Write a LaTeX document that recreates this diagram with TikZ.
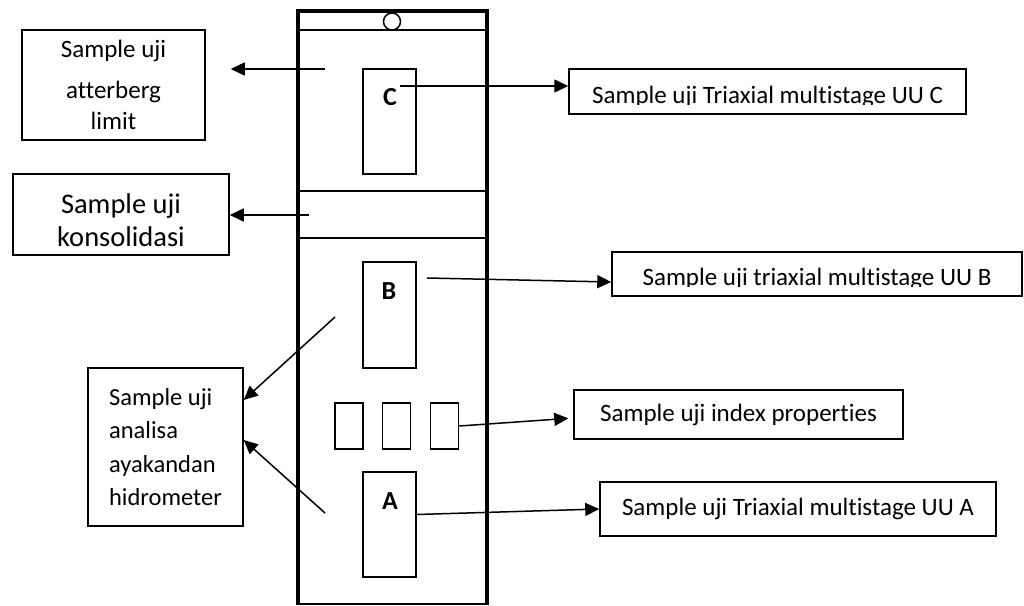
\documentclass[tikz,border=0pt]{standalone}
\usepackage{fontspec}
\setmainfont{Carlito}[RawFeature={-liga}]
\usetikzlibrary{arrows.meta}
\tikzset{
    box/.style={draw,line width=1.5pt,inner sep=0pt,align=center},
    big/.style={font=\fontsize{25}{36}\selectfont},
    cut/.style={box,path picture={
        \clip ([yshift=10pt]path picture bounding box.south west) rectangle (path picture bounding box.north east);
        \node[big,anchor=base] at ([yshift=11pt]path picture bounding box.south) {#1};
    }},
    arr/.style={-{Triangle[length=14pt,width=13pt]},line width=1.5pt},
    tag/.style={font=\fontsize{26}{30}\selectfont\bfseries},
    wall/.style={line width=3.5pt,line join=miter},
% coordinates are pixels of the page, y grows downwards
}

\begin{document}
\begin{tikzpicture}[x=1pt,y=1pt]
\useasboundingbox (0,0) rectangle (1024,-605);

\draw[wall] (298,-604) -- (298,-11) -- (487,-11) -- (487,-604);
        \draw[line width=2pt] (296.25,-604) -- (488.75,-604);
        \foreach \y in {30,191,238} {
            \draw[line width=2pt] (298,-\y) -- (487,-\y);
        }
        \draw[line width=1.5pt] (392,-21.5) circle (8.5);


        \node[box,minimum width=53pt,minimum height=105pt] (sampC) at (389.5,-121.5) {};
        \node[box,minimum width=53pt,minimum height=106pt] (sampB) at (389.5,-315) {};
        \node[box,minimum width=53pt,minimum height=105pt] (sampA) at (389.5,-524.5) {};
        \node[tag] (tagC) at (390,-97) {C};
        \node[tag] (tagB) at (389,-291) {B};
        \node[tag] (tagA) at (390,-501) {A};
        \foreach \x/\n in {349/1,396.5/2,444.5/3} {
            \node[box,minimum width=28pt,minimum height=46pt] (s\n) at (\x,-426) {};
        }


        \node[box,big,minimum width=183pt,minimum height=110pt] (atterberg) at (113.5,-85) {Sample uji\\[5pt]atterberg\\[-5pt]limit};
        \node[box,minimum width=216pt,minimum height=81pt,
            label={[font=\fontsize{28.5}{33}\selectfont,align=center,yshift=-6pt]center:Sample uji\\konsolidasi}] (konsol) at (121,-214.5) {};
        \node[box,font=\fontsize{24.5}{33.5}\selectfont,align=left,minimum width=155pt,minimum height=158pt] (analisa) at (165.5,-447) {Sample uji\\analisa\\ayakandan\\hidrometer};

        \node[cut=Sample uji Triaxial multistage UU C,minimum width=397pt,minimum height=45pt] (triC) at (767.5,-91.5) {};
        \node[cut=Sample uji triaxial multistage UU B,minimum width=410pt,minimum height=44pt] (triB) at (817,-274) {};
        \node[box,big,minimum width=329pt,minimum height=49pt] (index) at (738.5,-414.5) {Sample uji index properties};
        \node[box,big,minimum width=396pt,minimum height=54pt] (triA) at (798,-509) {Sample uji Triaxial multistage UU A};


        \coordinate (fromAtt) at (325,-69);
        \coordinate (fromKon) at (309,-215);
        \coordinate (fromC) at (400,-86);
        \coordinate (fromB) at (427,-278);
        \coordinate (fromUp) at (335,-317);
        \coordinate (fromLow) at (325,-513);

        \draw[arr,shorten >=25pt] (fromAtt) -- (fromAtt -| atterberg.east);
        \draw[arr] (fromKon) -- (fromKon -| konsol.east);
        \draw[arr] (fromC) -- (fromC -| triC.west);
        \draw[arr] (fromB) -- ([yshift=-8pt]triB.west);
        \draw[arr] (fromUp) -- ([yshift=47pt]analisa.east);
        \draw[arr] (fromLow) -- ([yshift=7pt]analisa.east);
        \draw[arr,shorten >=5pt] (s3.east) -- ([yshift=-3.5pt]index.west);
        \draw[arr] ([yshift=10pt]sampA.east) -- (triA.west);
\end{tikzpicture}
\end{document}
